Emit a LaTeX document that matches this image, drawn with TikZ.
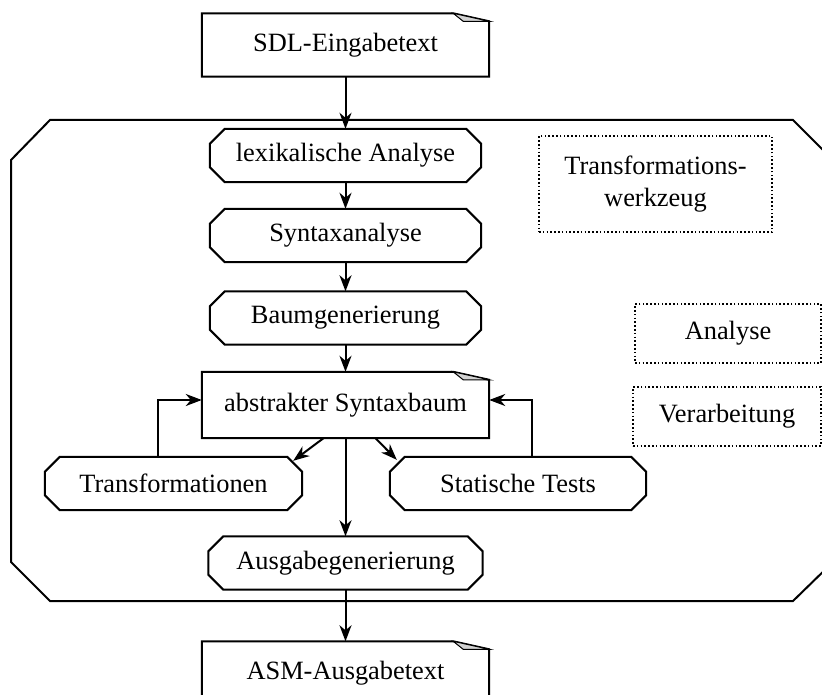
\documentclass[tikz,border=0pt]{standalone}
\usepackage{fontspec}
\setmainfont{Liberation Serif}
\usetikzlibrary{arrows.meta}
\begin{document}
\begin{tikzpicture}[x=1pt,y=-1pt,
  every node/.style={font=\fontsize{26.4}{32}\selectfont},
  thick line/.style={line width=2pt},
  stepbox/.style={rectangle, draw=none, minimum width=#1, minimum height=53pt, inner sep=0pt},
  stepbox/.default=271pt,
  docbox/.style={rectangle, draw=none, minimum width=287pt, minimum height=63pt, inner sep=0pt},
  notebox/.style={rectangle, draw, line width=1.6pt, dash pattern=on 1.6pt off 2.2pt,
    inner sep=0pt, align=center},
  arr/.style={thick line, -{Stealth[length=16pt,width=12pt,inset=5pt]}}]
\useasboundingbox (0,0) rectangle (822,695);
\clip (0,0) rectangle (822,695);

% enclosing tool frame with cut corners
\draw[thick line] (50,120) -- (793,120) -- (833,160) -- (833,562) -- (793,601)
  -- (50,601) -- (11,562) -- (11,160) -- cycle;

% documents
\node[docbox] (sdl) at (345.5,45) {SDL-Eingabetext};
\node[docbox, minimum height=66pt] (ast) at (345.5,405) {abstrakter Syntaxbaum};
\node[docbox] (asm) at (345.5,673) {ASM-Ausgabetext};
\foreach \n in {sdl,ast,asm}{
  \draw[thick line] (\n.south west) -- (\n.north west) -- ([xshift=-36pt]\n.north east)
    -- ([yshift=-8pt]\n.north east) -- (\n.south east) -- cycle;
  \draw[line width=1pt, fill=gray!35] ([xshift=-36pt]\n.north east)
    -- ([xshift=-26pt,yshift=-8pt]\n.north east) -- ([yshift=-8pt]\n.north east) -- cycle;
}

% processing steps
\node[stepbox] (lex) at (345.5,155.5) {lexikalische Analyse};
\node[stepbox] (syn) at (345.5,235.5) {Syntaxanalyse};
\node[stepbox] (baum) at (345.5,318) {Baumgenerierung};
\node[stepbox=257pt] (trans) at (173.5,483.5) {Transformationen};
\node[stepbox=256pt] (stat) at (518,483.5) {Statische Tests};
\node[stepbox=274pt] (aus) at (345.5,563) {Ausgabegenerierung};
% octagonal outlines of the steps
\foreach \n in {lex,syn,baum,trans,stat,aus}{
  \draw[thick line] ([xshift=15pt]\n.north west) -- ([xshift=-15pt]\n.north east)
    -- ([yshift=-15pt]\n.north east) -- ([yshift=15pt]\n.south east)
    -- ([xshift=-15pt]\n.south east) -- ([xshift=15pt]\n.south west)
    -- ([yshift=15pt]\n.south west) -- ([yshift=-15pt]\n.north west) -- cycle;
}

% legend boxes
\node[notebox, minimum width=233pt, minimum height=96pt] (tw) at (655.5,184)
  {Transformations-\\werkzeug};
\node[notebox, minimum width=186pt, minimum height=59pt] (ana) at (728,333.5) {Analyse};
\node[notebox, minimum width=188pt, minimum height=59pt] (ver) at (727,416.5) {Verarbeitung};

% flow
\draw[arr] (sdl.south) -- (lex.north);
\draw[arr] (lex) -- (syn);
\draw[arr] (syn) -- (baum);
\draw[arr] (baum.south) -- (ast.north);
\draw[arr] (ast.south) -- (aus.north);
\draw[arr] (aus.south) -- (asm.north);
\draw[arr] ([xshift=-22pt]ast.south) -- ([xshift=-9pt,yshift=-4pt]trans.north east);
\draw[arr] ([xshift=30pt]ast.south) -- ([xshift=7pt,yshift=-3pt]stat.north west);
\draw[arr] ([xshift=-15.5pt]trans.north) |- ([yshift=5pt]ast.west);
\draw[arr] ([xshift=14pt]stat.north) |- ([yshift=5pt]ast.east);
\end{tikzpicture}
\end{document}
